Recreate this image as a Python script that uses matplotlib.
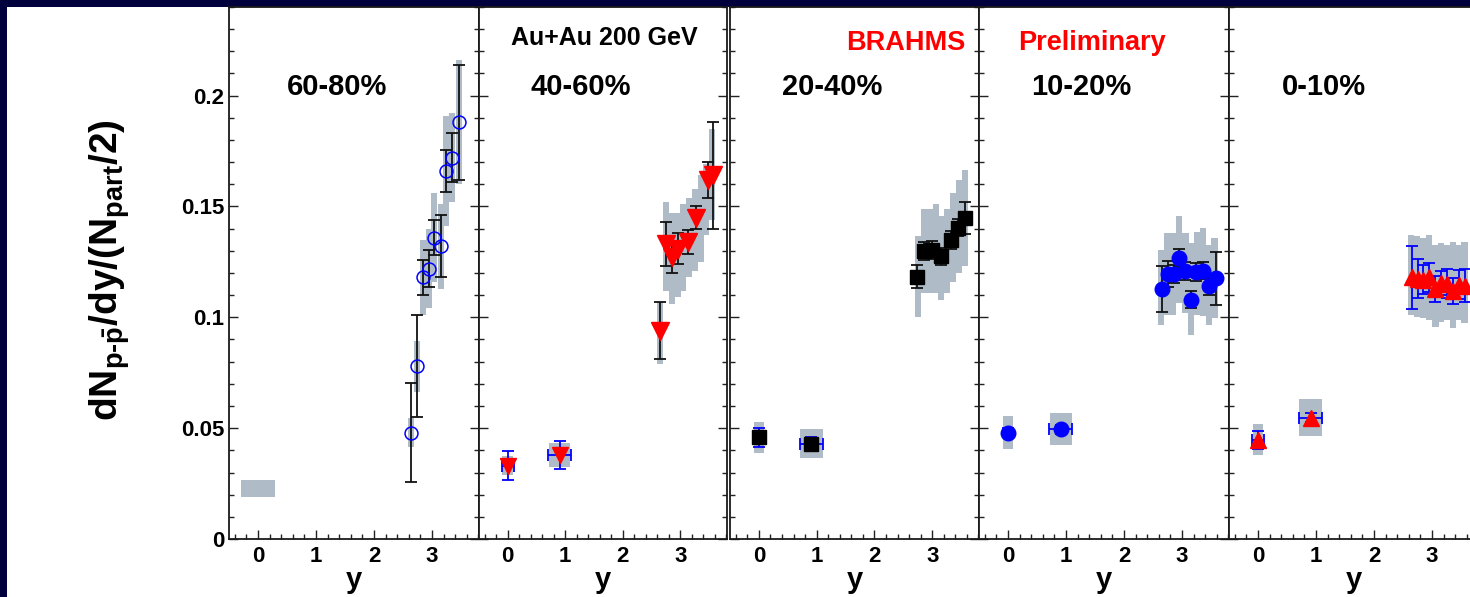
import matplotlib
matplotlib.use("Agg")
import matplotlib.pyplot as plt
from matplotlib.patches import Rectangle
from matplotlib.ticker import MultipleLocator, FixedLocator

plt.rcParams["font.family"] = ["Liberation Sans", "DejaVu Sans"]
plt.rcParams["mathtext.fontset"] = "custom"
plt.rcParams["mathtext.rm"] = "Liberation Sans:bold"
plt.rcParams["mathtext.it"] = "Liberation Sans:bold"
plt.rcParams["mathtext.bf"] = "Liberation Sans:bold"
plt.rcParams["mathtext.sf"] = "Liberation Sans:bold"
plt.rcParams["mathtext.default"] = "rm"

NAVY = "#00003c"
SYS_GREY = "#afbcc7"
RED = "#ff0000"
BLUE = "#0000ff"

# ---------------------------------------------------------------- data
centralities = ["60-80%", "40-60%", "20-40%", "10-20%", "0-10%"]
y_ticks = [0, 0.05, 0.1, 0.15, 0.2]
y_tick_labels = ["0", "0.05", "0.1", "0.15", "0.2"]
x_ticks = [0, 1, 2, 3]
x_tick_labels = ["0", "1", "2", "3"]

# 60-80% : forward rapidity points (stat / sys uncertainties)
c6080_x = [2.64, 2.74, 2.84, 2.95, 3.03, 3.15, 3.24, 3.34, 3.46]
c6080_y = [0.048, 0.078, 0.118, 0.122, 0.136, 0.132, 0.166, 0.172, 0.188]
c6080_stat = [0.0225, 0.023, 0.008, 0.0085, 0.008, 0.014, 0.0096, 0.011, 0.026]
c6080_sys = [0.0067, 0.0115, 0.017, 0.018, 0.02, 0.019, 0.025, 0.02, 0.028]
# 60-80% : normalisation band near y = 0
c6080_band_x = [-0.3, 0.3]
c6080_band_y = [0.019, 0.0266]

# 40-60%
c4060_mid_x = [0.0, 0.9]
c4060_mid_y = [0.033, 0.038]
c4060_mid_stat = [0.0065, 0.0063]
c4060_mid_xerr = [0.1, 0.2]
c4060_mid_sys = [0.0043, 0.0055]
c4060_mid_boxw = [0.19, 0.38]
c4060_x = [2.64, 2.75, 2.86, 2.96, 3.13, 3.27, 3.48, 3.57]
c4060_y = [0.094, 0.133, 0.127, 0.131, 0.134, 0.145, 0.162, 0.164]
c4060_stat = [0.013, 0.010, 0.007, 0.007, 0.0055, 0.005, 0.008, 0.024]
c4060_box_x = [2.645, 2.75, 2.85, 2.95, 3.05, 3.15, 3.25, 3.35, 3.45, 3.55]
c4060_box_lo = [0.079, 0.112, 0.106, 0.109, 0.112, 0.118, 0.121, 0.125, 0.137, 0.144]
c4060_box_hi = [0.107, 0.152, 0.147, 0.147, 0.151, 0.154, 0.158, 0.164, 0.169, 0.185]

# 20-40%
c2040_mid_x = [0.0, 0.91]
c2040_mid_y = [0.046, 0.043]
c2040_mid_stat = [0.0043, 0.003]
c2040_mid_xerr = [0.05, 0.2]
c2040_mid_sys = [0.007, 0.0065]
c2040_mid_boxw = [0.17, 0.39]
c2040_x = [2.74, 2.85, 3.0, 3.16, 3.32, 3.44, 3.56]
c2040_y = [0.1183, 0.130, 0.1305, 0.1275, 0.135, 0.1405, 0.1448]
c2040_stat = [0.0051, 0.004, 0.004, 0.004, 0.004, 0.004, 0.0072]
c2040_box_x = [2.755, 2.855, 2.96, 3.06, 3.16, 3.26, 3.36, 3.46, 3.565]
c2040_box_lo = [0.100, 0.111, 0.111, 0.111, 0.108, 0.111, 0.116, 0.120, 0.123]
c2040_box_hi = [0.1365, 0.149, 0.149, 0.151, 0.1455, 0.149, 0.156, 0.162, 0.1666]

# 10-20%
c1020_mid_x = [0.0, 0.91]
c1020_mid_y = [0.048, 0.0495]
c1020_mid_stat = [0.002, 0.002]
c1020_mid_xerr = [0.05, 0.2]
c1020_mid_sys = [0.0073, 0.0072]
c1020_mid_boxw = [0.17, 0.38]
c1020_x = [2.65, 2.76, 2.86, 2.95, 3.06, 3.16, 3.24, 3.36, 3.47, 3.59]
c1020_y = [0.1128, 0.1195, 0.1195, 0.1268, 0.121, 0.108, 0.1205, 0.1211, 0.114, 0.1176]
c1020_stat = [0.0103, 0.006, 0.004, 0.004, 0.004, 0.004, 0.004, 0.004, 0.004, 0.012]
c1020_box_x = [2.645, 2.745, 2.845, 2.955, 3.06, 3.16, 3.26, 3.36, 3.46, 3.56]
c1020_box_lo = [0.0966, 0.1011, 0.1011, 0.1064, 0.1019, 0.0921, 0.101, 0.1004, 0.0966, 0.0997]
c1020_box_hi = [0.1305, 0.138, 0.138, 0.1458, 0.138, 0.1335, 0.1383, 0.1403, 0.1327, 0.1358]

# 0-10%
c010_mid_x = [0.0, 0.91]
c010_mid_y = [0.0448, 0.0548]
c010_mid_stat = [0.004, 0.002]
c010_mid_xerr = [0.1, 0.2]
c010_mid_sys = [0.007, 0.0085]
c010_mid_boxw = [0.17, 0.39]
c010_x = [2.65, 2.76, 2.85, 2.95, 3.05, 3.16, 3.25, 3.36, 3.47, 3.57]
c010_y = [0.118, 0.1175, 0.117, 0.118, 0.1128, 0.1154, 0.1152, 0.1118, 0.1148, 0.1142]
c010_stat = [0.0143, 0.009, 0.0064, 0.0065, 0.006, 0.0055, 0.0065, 0.006, 0.0065, 0.0075]
c010_box_x = [2.645, 2.745, 2.845, 2.955, 3.06, 3.16, 3.26, 3.36, 3.46, 3.56]
c010_box_lo = [0.101, 0.100, 0.0996, 0.099, 0.0958, 0.098, 0.099, 0.0951, 0.099, 0.0974]
c010_box_hi = [0.137, 0.1365, 0.1358, 0.137, 0.1327, 0.1335, 0.1327, 0.1342, 0.1327, 0.1342]

# ---------------------------------------------------------------- figure
W, H = 1470, 597
fig = plt.figure(figsize=(W / 100, H / 100), dpi=100, facecolor=NAVY)
fig.add_artist(Rectangle((7 / W, 0), 1, 1 - 7 / H, transform=fig.transFigure,
                         facecolor="white", edgecolor="none", zorder=-10))

panel_left = [229, 479, 730, 979, 1229]
panel_width = [250, 248, 249, 250, 250]
ax_bottom, ax_top = 539, 7


def make_axes(i):
    ax = fig.add_axes([panel_left[i] / W, (H - ax_bottom) / H,
                       panel_width[i] / W, (ax_bottom - ax_top) / H])
    ax.set_xlim(-0.5, 3.81)
    ax.set_ylim(0, 0.24)
    ax.yaxis.set_major_locator(FixedLocator(y_ticks))
    ax.yaxis.set_minor_locator(MultipleLocator(0.01))
    ax.xaxis.set_major_locator(FixedLocator(x_ticks))
    ax.xaxis.set_minor_locator(MultipleLocator(0.2))
    ax.set_xticklabels(x_tick_labels)
    ax.tick_params(which="both", direction="in", left=True, right=True,
                   top=False, bottom=True, color="#222222", width=1.0)
    ax.tick_params(which="major", length=6.5)
    ax.tick_params(which="minor", length=3.8)
    ax.tick_params(axis="x", which="major", pad=5, labelsize=16)
    if i == 0:
        ax.set_yticklabels(y_tick_labels)
        ax.tick_params(axis="y", labelsize=16, pad=3.5)
    else:
        ax.tick_params(axis="y", labelleft=False)
    for lab in ax.get_xticklabels() + ax.get_yticklabels():
        lab.set_fontweight("bold")
    for sp in ax.spines.values():
        sp.set_linewidth(1.3)
        sp.set_color("#1a1a1a")
    ax.text(0.5, -0.092, "y", transform=ax.transAxes, ha="center",
            va="baseline", fontsize=21, fontweight="bold")
    return ax


def boxes(ax, xs, lo, hi, width):
    for x, a, b in zip(xs, lo, hi):
        ax.add_patch(Rectangle((x - width / 2, a), width, b - a,
                               facecolor=SYS_GREY, edgecolor="none", zorder=1))


def mid_points(ax, xs, ys, stat, xerr, sys, boxw, marker, color, ms):
    for x, y, s, w in zip(xs, ys, sys, boxw):
        ax.add_patch(Rectangle((x - w / 2, y - s), w, 2 * s,
                               facecolor=SYS_GREY, edgecolor="none", zorder=1))
    ax.errorbar(xs, ys, xerr=xerr, yerr=stat, fmt="none", ecolor=BLUE,
                elinewidth=1.3, capsize=4.5, capthick=1.3, zorder=2)
    ax.plot(xs, ys, ls="none", marker=marker, color=color, mec=color,
            ms=ms, zorder=3)


def fwd_points(ax, xs, ys, stat, ecolor, marker, color, ms, **kw):
    ax.errorbar(xs, ys, yerr=stat, fmt="none", ecolor=ecolor,
                elinewidth=1.3, capsize=4.5, capthick=1.3, zorder=2)
    ax.plot(xs, ys, ls="none", marker=marker, color=color, ms=ms, zorder=3, **kw)


axes = [make_axes(i) for i in range(5)]

# 60-80%
ax = axes[0]
ax.add_patch(Rectangle((c6080_band_x[0], c6080_band_y[0]),
                       c6080_band_x[1] - c6080_band_x[0],
                       c6080_band_y[1] - c6080_band_y[0],
                       facecolor=SYS_GREY, edgecolor="none", zorder=1))
boxes(ax, c6080_x, [y - s for y, s in zip(c6080_y, c6080_sys)],
      [y + s for y, s in zip(c6080_y, c6080_sys)], 0.105)
fwd_points(ax, c6080_x, c6080_y, c6080_stat, "#111111", "o", BLUE, 9.3,
           mfc="none", mec=BLUE, mew=1.1)

# 40-60%
ax = axes[1]
boxes(ax, c4060_box_x, c4060_box_lo, c4060_box_hi, 0.105)
mid_points(ax, c4060_mid_x, c4060_mid_y, c4060_mid_stat, c4060_mid_xerr,
           c4060_mid_sys, c4060_mid_boxw, "v", RED, 12)
fwd_points(ax, c4060_x, c4060_y, c4060_stat, "#111111", "v", RED, 12.5, mec=RED)

# 20-40%
ax = axes[2]
boxes(ax, c2040_box_x, c2040_box_lo, c2040_box_hi, 0.105)
mid_points(ax, c2040_mid_x, c2040_mid_y, c2040_mid_stat, c2040_mid_xerr,
           c2040_mid_sys, c2040_mid_boxw, "s", "black", 9.5)
fwd_points(ax, c2040_x, c2040_y, c2040_stat, "#111111", "s", "black", 9.5)

# 10-20%
ax = axes[3]
boxes(ax, c1020_box_x, c1020_box_lo, c1020_box_hi, 0.105)
mid_points(ax, c1020_mid_x, c1020_mid_y, c1020_mid_stat, c1020_mid_xerr,
           c1020_mid_sys, c1020_mid_boxw, "o", BLUE, 10.5)
fwd_points(ax, c1020_x, c1020_y, c1020_stat, "#111111", "o", BLUE, 10.5, mec=BLUE)

# 0-10%
ax = axes[4]
boxes(ax, c010_box_x, c010_box_lo, c010_box_hi, 0.105)
mid_points(ax, c010_mid_x, c010_mid_y, c010_mid_stat, c010_mid_xerr,
           c010_mid_sys, c010_mid_boxw, "^", RED, 11)
fwd_points(ax, c010_x, c010_y, c010_stat, BLUE, "^", RED, 11, mec=RED)

# centrality labels
label_xfrac = [0.432, 0.41, 0.41, 0.41, 0.38]
for ax, name, xf in zip(axes, centralities, label_xfrac):
    ax.text(xf, 0.834, name, transform=ax.transAxes, ha="center",
            va="baseline", fontsize=21, fontweight="bold")

axes[1].text(0.504, 0.928, "Au+Au 200 GeV", transform=axes[1].transAxes,
             ha="center", va="baseline", fontsize=18, fontweight="bold")
axes[2].text(0.706, 0.919, "BRAHMS", transform=axes[2].transAxes,
             ha="center", va="baseline", fontsize=19.5, fontweight="bold",
             color=RED)
axes[3].text(0.452, 0.919, "Preliminary", transform=axes[3].transAxes,
             ha="center", va="baseline", fontsize=19.5, fontweight="bold",
             color=RED)

fig.text(109.5 / W, 1 - 270 / H, r"$dN_{p\text{-}\bar{p}}/dy/(N_{part}/2)$",
         rotation=90, ha="center", va="center", fontsize=28)

fig.savefig("out.png", dpi=100, facecolor=NAVY)
